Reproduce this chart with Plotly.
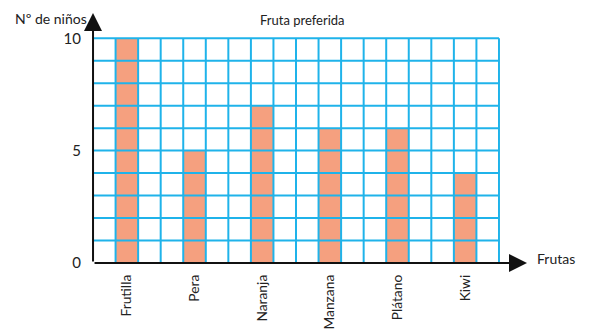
import plotly.graph_objects as go

# Fruit preference survey
frutas = ["Frutilla", "Pera", "Naranja", "Manzana", "Plátano", "Kiwi"]
ninos = [10, 5, 7, 6, 6, 4]
y_ticks = [0, 5, 10]

FONT = "Lato"
GRID = "#1fb3ea"
BAR = "#f5a07f"

# Canvas / plot geometry
W, H = 590, 331
ML, MR, MT, MB = 91, 89, 36, 68
PW, PH = W - ML - MR, H - MT - MB

n = len(frutas)
x_pos = list(range(n))
XR = [-0.53, n - 0.5 + 0.03]
YR = [0, 10.1]


def px_x(px):
    return (px - ML) / PW


def px_y(py):
    return (H - MB - py) / PH


def data_to_px_x(v):
    return ML + (v - XR[0]) / (XR[1] - XR[0]) * PW


fig = go.Figure()
fig.add_trace(go.Bar(
    x=x_pos, y=ninos, width=1 / 3,
    marker=dict(color=BAR, line=dict(width=0)),
    hoverinfo="x+y",
))

# Grid drawn over the bars: three columns per fruit, one row per child
shapes = []
for k in range(1, 3 * n + 1):
    xv = -0.5 + k / 3
    shapes.append(dict(type="line", xref="x", yref="y", x0=xv, x1=xv, y0=0, y1=10,
                       line=dict(color=GRID, width=2), layer="above"))
for yv in range(1, 11):
    shapes.append(dict(type="line", xref="x", yref="y", x0=-0.5, x1=n - 0.5, y0=yv, y1=yv,
                       line=dict(color=GRID, width=2), layer="above"))

x0_px = data_to_px_x(-0.5)
axis_y_px = H - MB
arrow_style = dict(text="", showarrow=True, arrowhead=2, arrowsize=1.8, arrowwidth=2,
                   arrowcolor="#111", standoff=0, axref="pixel", ayref="pixel",
                   xref="paper", yref="paper")
annotations = [
    # vertical axis with arrow
    dict(x=px_x(x0_px), y=px_y(13), ax=0, ay=axis_y_px - 13, **arrow_style),
    # horizontal axis with arrow
    dict(x=px_x(527), y=0, ax=-(527 - x0_px), ay=0, **arrow_style),
    dict(xref="paper", yref="paper", x=px_x(535), y=px_y(258), xanchor="left", yanchor="middle",
         text="Frutas", showarrow=False, font=dict(family=FONT, size=14, color="#222")),
    dict(xref="paper", yref="paper", x=px_x(89), y=px_y(18), xanchor="right", yanchor="middle",
         text="Nº de niños", showarrow=False, font=dict(family=FONT, size=14, color="#222")),
    dict(xref="paper", yref="paper", x=px_x(302), y=px_y(20), xanchor="center", yanchor="middle",
         text="Fruta preferida", showarrow=False, font=dict(family=FONT, size=13, color="#222")),
]

fig.update_layout(
    width=W, height=H,
    margin=dict(l=ML, r=MR, t=MT, b=MB, pad=0, autoexpand=False),
    paper_bgcolor="white", plot_bgcolor="white",
    showlegend=False, bargap=0,
    shapes=shapes, annotations=annotations,
    font=dict(family=FONT, color="#222"),
    xaxis=dict(range=XR, tickvals=x_pos, ticktext=frutas, tickangle=-90,
               showgrid=False, zeroline=False, showline=False, ticks="",
               ticklabelstandoff=8, automargin=False,
               tickfont=dict(family=FONT, size=13.8, color="#222"), fixedrange=True),
    yaxis=dict(range=YR, tickvals=y_ticks, showgrid=False, zeroline=False, showline=False,
               ticks="", ticklabelstandoff=9, automargin=False,
               tickfont=dict(family=FONT, size=15, color="#222"), fixedrange=True),
)

fig.write_html("out.html")
